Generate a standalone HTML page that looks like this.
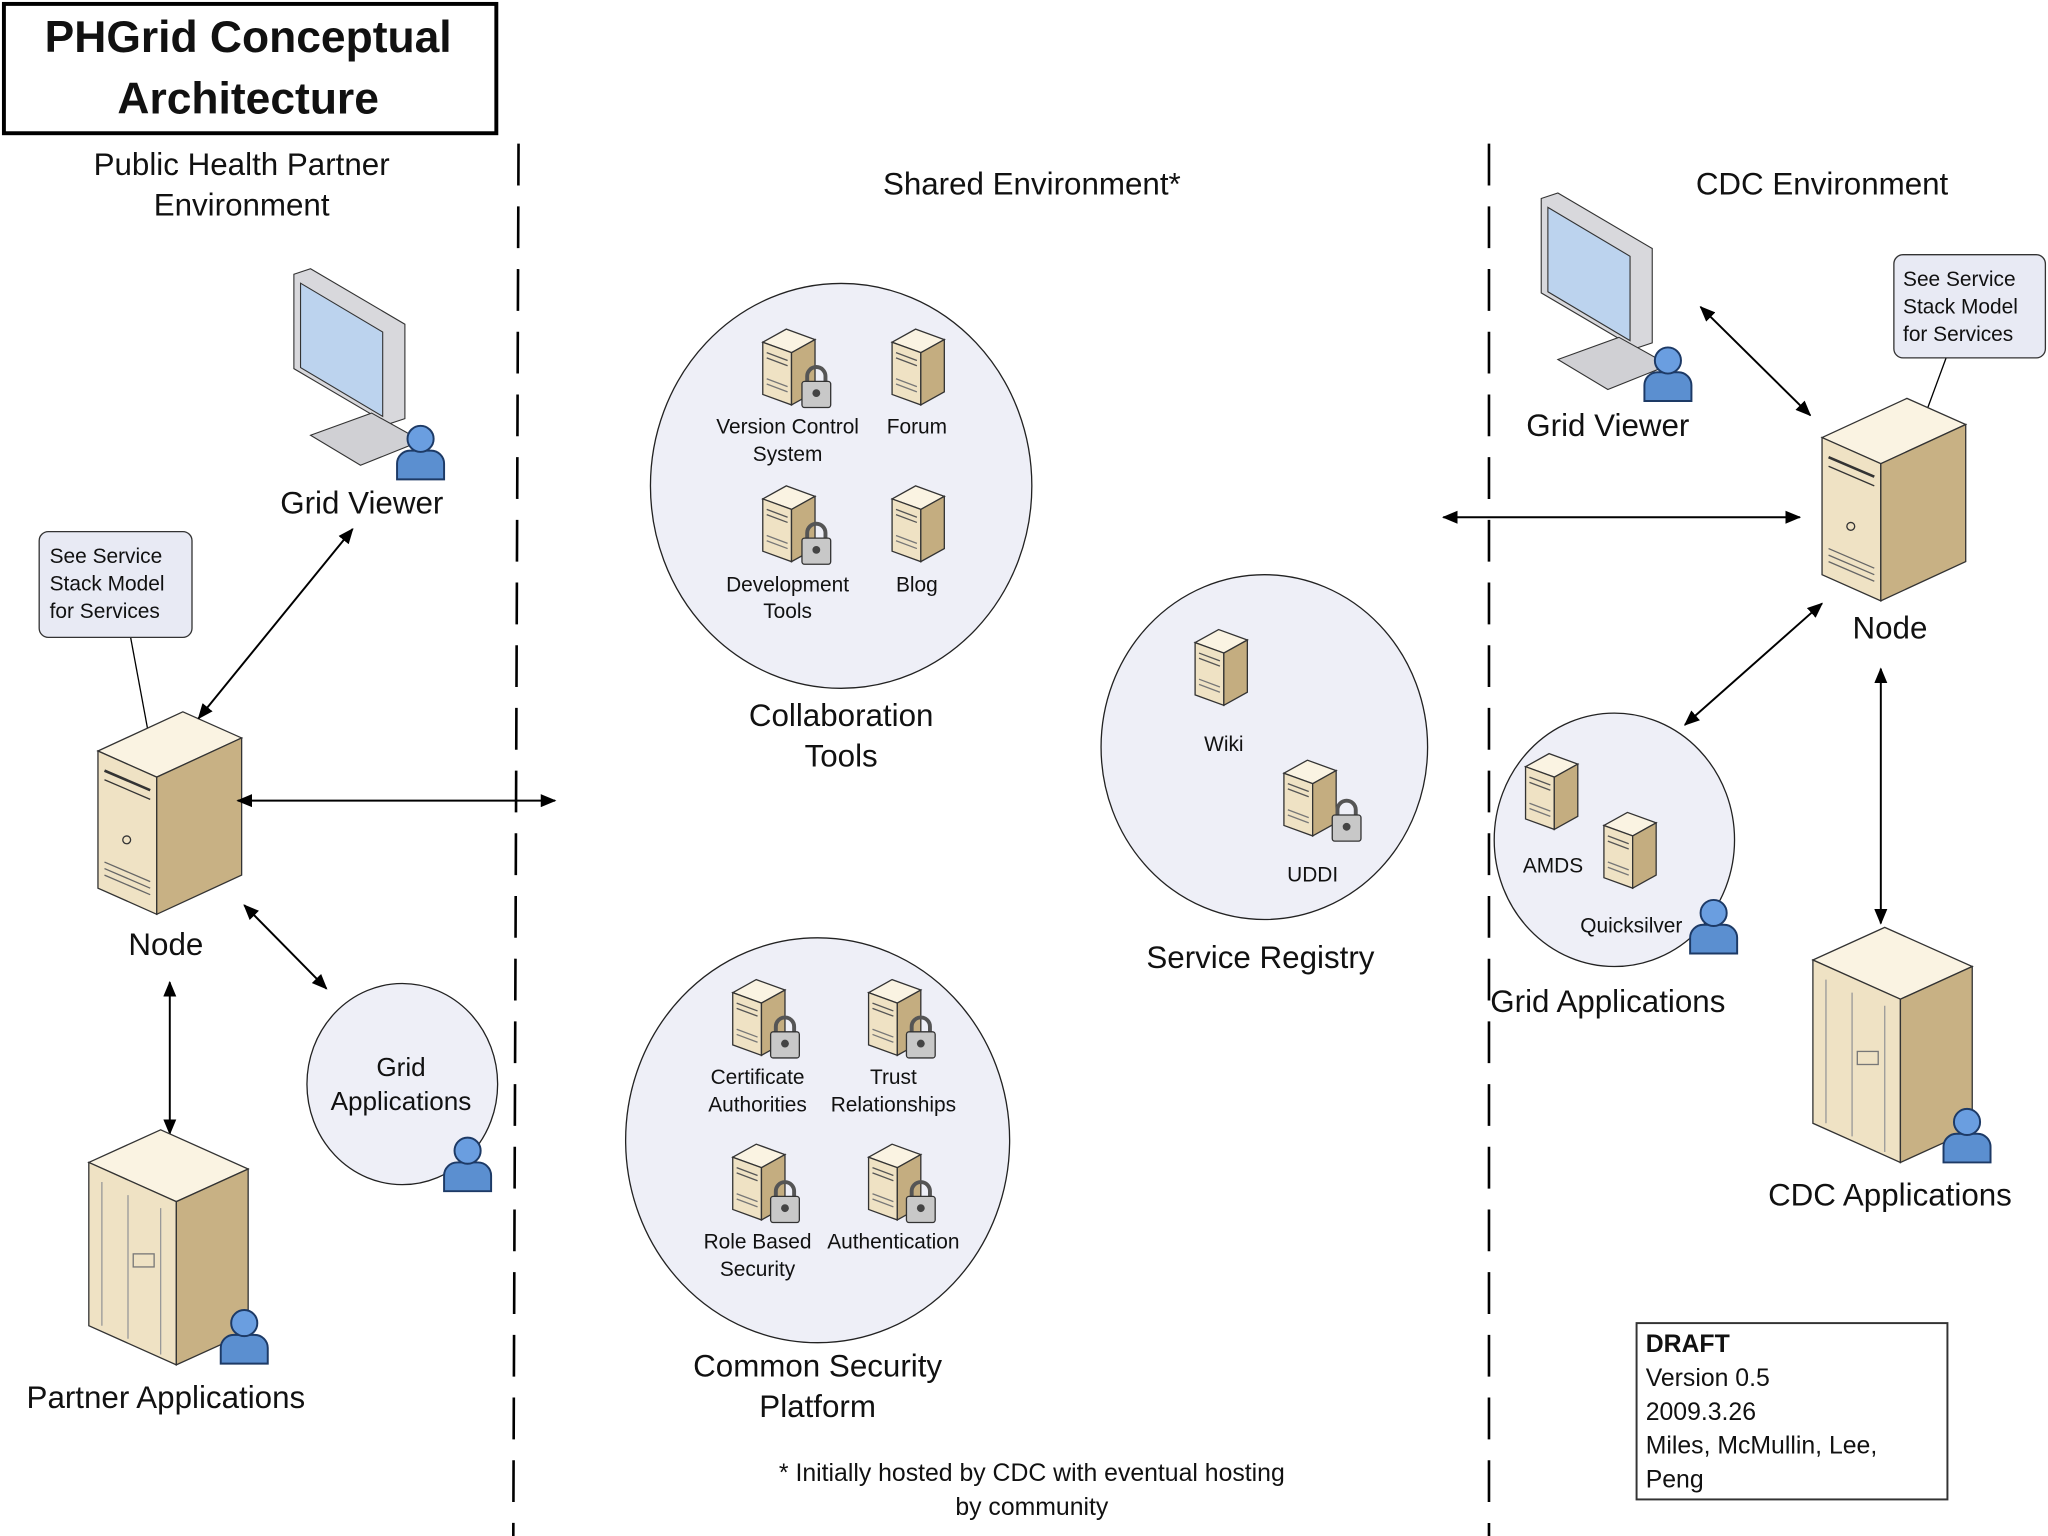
<!DOCTYPE html>
<html><head><meta charset="utf-8"><style>
html,body{margin:0;padding:0;background:#fff;}
svg{display:block;}
text{font-family:"Liberation Sans",Arial,sans-serif;fill:#111;}
</style></head><body>
<svg width="2048" height="1536" viewBox="0 0 1568 1176" xmlns="http://www.w3.org/2000/svg">
<defs>
<marker id="ah" markerWidth="12" markerHeight="10" refX="11" refY="5" orient="auto-start-reverse" markerUnits="userSpaceOnUse">
<path d="M0,0 L12,5 L0,10 z" fill="#000"/></marker>
<g id="srv">
<polygon points="0,10 18,0 40,8 22,18" fill="#faf3e2" stroke="#333" stroke-width="1"/>
<polygon points="0,10 22,18 22,58 0,50" fill="#efe2c4" stroke="#333" stroke-width="1"/>
<polygon points="22,18 40,8 40,48 22,58" fill="#c4ad80" stroke="#333" stroke-width="1"/>
<line x1="3" y1="18" x2="19" y2="24" stroke="#555"/>
<line x1="3" y1="22" x2="19" y2="28" stroke="#555"/>
<line x1="3" y1="38" x2="19" y2="44" stroke="#777"/>
<line x1="3" y1="42" x2="19" y2="48" stroke="#777"/>
</g>
<g id="lock">
<path d="M4,10 v-4 a7,7 0 0 1 14,0 v4" fill="none" stroke="#555" stroke-width="3"/>
<rect x="0" y="10" width="22" height="20" rx="2" fill="#c8c8c8" stroke="#333"/>
<circle cx="11" cy="19" r="3" fill="#444"/>
</g>
<g id="person">
<path d="M-18,22 v-12 a10,10 0 0 1 10,-10 h16 a10,10 0 0 1 10,10 v12 z" fill="#5b8fd0" stroke="#1d3a66" stroke-width="1.5"/>
<circle cx="0" cy="-9" r="10" fill="#6a9ee0" stroke="#1d3a66" stroke-width="1.5"/>
</g>
<g id="node">
<polygon points="0,30 65,0 110,20 45,50" fill="#faf3e2" stroke="#333"/>
<polygon points="0,30 45,50 45,155 0,135" fill="#efe2c4" stroke="#333"/>
<polygon points="45,50 110,20 110,125 45,155" fill="#c8b184" stroke="#333"/>
<line x1="5" y1="45" x2="40" y2="60" stroke="#333" stroke-width="2"/>
<line x1="5" y1="52" x2="40" y2="67" stroke="#333"/>
<circle cx="22" cy="98" r="3" fill="none" stroke="#333"/>
<line x1="5" y1="115" x2="40" y2="130" stroke="#666"/>
<line x1="5" y1="120" x2="40" y2="135" stroke="#666"/>
<line x1="5" y1="125" x2="40" y2="140" stroke="#666"/>
</g>
<g id="big">
<polygon points="0,25 55,0 122,30 67,55" fill="#faf3e2" stroke="#333"/>
<polygon points="0,25 67,55 67,180 0,150" fill="#efe2c4" stroke="#333"/>
<polygon points="67,55 122,30 122,155 67,180" fill="#c8b184" stroke="#333"/>
<line x1="10" y1="40" x2="10" y2="150" stroke="#999"/>
<line x1="30" y1="50" x2="30" y2="160" stroke="#999"/>
<line x1="55" y1="60" x2="55" y2="172" stroke="#999"/>
<rect x="34" y="95" width="16" height="10" fill="none" stroke="#777"/>
</g>
<g id="mon">
<polygon points="0,0 15,-5 100,45 100,130 85,135 0,85" fill="#d8d8dc" stroke="#333"/>
<polygon points="6,8 80,52 80,128 6,84" fill="#bcd3ee" stroke="#333"/>
<polygon points="15,145 70,125 115,150 60,172" fill="#d0d0d4" stroke="#333"/>
</g>
</defs>

<rect x="3" y="3" width="377" height="99" fill="#fff" stroke="#000" stroke-width="3"/>
<text x="190" y="40" font-size="34" font-weight="bold" text-anchor="middle">PHGrid Conceptual</text>
<text x="190" y="87" font-size="34" font-weight="bold" text-anchor="middle">Architecture</text>

<line x1="397" y1="110" x2="393" y2="1176" stroke="#000" stroke-width="2" stroke-dasharray="32,16"/>
<line x1="1140" y1="110" x2="1140" y2="1176" stroke="#000" stroke-width="2" stroke-dasharray="32,16"/>

<g font-size="24" text-anchor="middle">
<text x="185" y="134">Public Health Partner</text>
<text x="185" y="165">Environment</text>
<text x="790" y="149">Shared Environment*</text>
<text x="1395" y="149">CDC Environment</text>
</g>

<use href="#mon" transform="translate(225,210) scale(0.85)"/>
<use href="#person" transform="translate(322,345)"/>
<text x="277" y="393" font-size="24" text-anchor="middle">Grid Viewer</text>
<line x1="100" y1="488" x2="113" y2="558" stroke="#000"/>
<rect x="30" y="407" width="117" height="81" rx="7" fill="#e8eaf4" stroke="#333"/>
<g font-size="16"><text x="38" y="431">See Service</text><text x="38" y="452">Stack Model</text><text x="38" y="473">for Services</text></g>
<use href="#node" transform="translate(75,545)"/>
<text x="127" y="731" font-size="24" text-anchor="middle">Node</text>
<g stroke="#000" stroke-width="1.5" marker-start="url(#ah)" marker-end="url(#ah)">
<line x1="152" y1="550" x2="270" y2="405"/>
<line x1="182" y1="613" x2="425" y2="613"/>
<line x1="187" y1="693" x2="250" y2="757"/>
<line x1="130" y1="752" x2="130" y2="868"/>
<line x1="1302" y1="235" x2="1386" y2="318"/>
<line x1="1105" y1="396" x2="1378" y2="396"/>
<line x1="1290" y1="555" x2="1395" y2="462"/>
<line x1="1440" y1="512" x2="1440" y2="707"/>
</g>
<ellipse cx="308" cy="830" rx="73" ry="77" fill="#eeeff7" stroke="#222"/>
<text x="307" y="824" font-size="20" text-anchor="middle">Grid</text>
<text x="307" y="850" font-size="20" text-anchor="middle">Applications</text>
<use href="#person" transform="translate(358,890)"/>
<use href="#big" transform="translate(68,865)"/>
<use href="#person" transform="translate(187,1022)"/>
<text x="127" y="1078" font-size="24" text-anchor="middle">Partner Applications</text>

<ellipse cx="644" cy="372" rx="146" ry="155" fill="#eeeff7" stroke="#222"/>
<use href="#srv" transform="translate(584,252)"/><use href="#lock" transform="translate(614,282)"/>
<use href="#srv" transform="translate(683,252)"/>
<use href="#srv" transform="translate(584,372)"/><use href="#lock" transform="translate(614,402)"/>
<use href="#srv" transform="translate(683,372)"/>
<g font-size="16" text-anchor="middle">
<text x="603" y="332">Version Control</text><text x="603" y="353">System</text>
<text x="702" y="332">Forum</text>
<text x="603" y="453">Development</text><text x="603" y="473">Tools</text>
<text x="702" y="453">Blog</text>
</g>
<text x="644" y="556" font-size="24" text-anchor="middle">Collaboration</text>
<text x="644" y="587" font-size="24" text-anchor="middle">Tools</text>

<ellipse cx="626" cy="873" rx="147" ry="155" fill="#eeeff7" stroke="#222"/>
<use href="#srv" transform="translate(561,750)"/><use href="#lock" transform="translate(590,780)"/>
<use href="#srv" transform="translate(665,750)"/><use href="#lock" transform="translate(694,780)"/>
<use href="#srv" transform="translate(561,876)"/><use href="#lock" transform="translate(590,906)"/>
<use href="#srv" transform="translate(665,876)"/><use href="#lock" transform="translate(694,906)"/>
<g font-size="16" text-anchor="middle">
<text x="580" y="830">Certificate</text><text x="580" y="851">Authorities</text>
<text x="684" y="830">Trust</text><text x="684" y="851">Relationships</text>
<text x="580" y="956">Role Based</text><text x="580" y="977">Security</text>
<text x="684" y="956">Authentication</text>
</g>
<text x="626" y="1054" font-size="24" text-anchor="middle">Common Security</text>
<text x="626" y="1085" font-size="24" text-anchor="middle">Platform</text>

<ellipse cx="968" cy="572" rx="125" ry="132" fill="#eeeff7" stroke="#222"/>
<use href="#srv" transform="translate(915,482)"/>
<text x="937" y="575" font-size="16" text-anchor="middle">Wiki</text>
<use href="#srv" transform="translate(983,582)"/><use href="#lock" transform="translate(1020,614)"/>
<text x="1005" y="675" font-size="16" text-anchor="middle">UDDI</text>
<text x="965" y="741" font-size="24" text-anchor="middle">Service Registry</text>

<text x="790" y="1134" font-size="19" text-anchor="middle">* Initially hosted by CDC with eventual hosting</text>
<text x="790" y="1160" font-size="19" text-anchor="middle">by community</text>

<use href="#mon" transform="translate(1180,152) scale(0.85)"/>
<use href="#person" transform="translate(1277,285)"/>
<text x="1231" y="334" font-size="24" text-anchor="middle">Grid Viewer</text>
<line x1="1490" y1="274" x2="1476" y2="312" stroke="#000"/>
<rect x="1450" y="195" width="116" height="79" rx="7" fill="#e8eaf4" stroke="#333"/>
<g font-size="16"><text x="1457" y="219">See Service</text><text x="1457" y="240">Stack Model</text><text x="1457" y="261">for Services</text></g>
<use href="#node" transform="translate(1395,305)"/>
<text x="1447" y="489" font-size="24" text-anchor="middle">Node</text>
<ellipse cx="1236" cy="643" rx="92" ry="97" fill="#eeeff7" stroke="#222"/>
<use href="#srv" transform="translate(1168,577)"/>
<use href="#srv" transform="translate(1228,622)"/>
<text x="1189" y="668" font-size="16" text-anchor="middle">AMDS</text>
<text x="1249" y="714" font-size="16" text-anchor="middle">Quicksilver</text>
<use href="#person" transform="translate(1312,708)"/>
<text x="1231" y="775" font-size="24" text-anchor="middle">Grid Applications</text>
<use href="#big" transform="translate(1388,710)"/>
<use href="#person" transform="translate(1506,868)"/>
<text x="1447" y="923" font-size="24" text-anchor="middle">CDC Applications</text>

<rect x="1253" y="1013" width="238" height="135" fill="#fff" stroke="#333" stroke-width="1.5"/>
<g font-size="19"><text x="1260" y="1035" font-weight="bold">DRAFT</text><text x="1260" y="1061">Version 0.5</text><text x="1260" y="1087">2009.3.26</text><text x="1260" y="1113">Miles, McMullin, Lee,</text><text x="1260" y="1139">Peng</text></g>
</svg>
</body></html>
